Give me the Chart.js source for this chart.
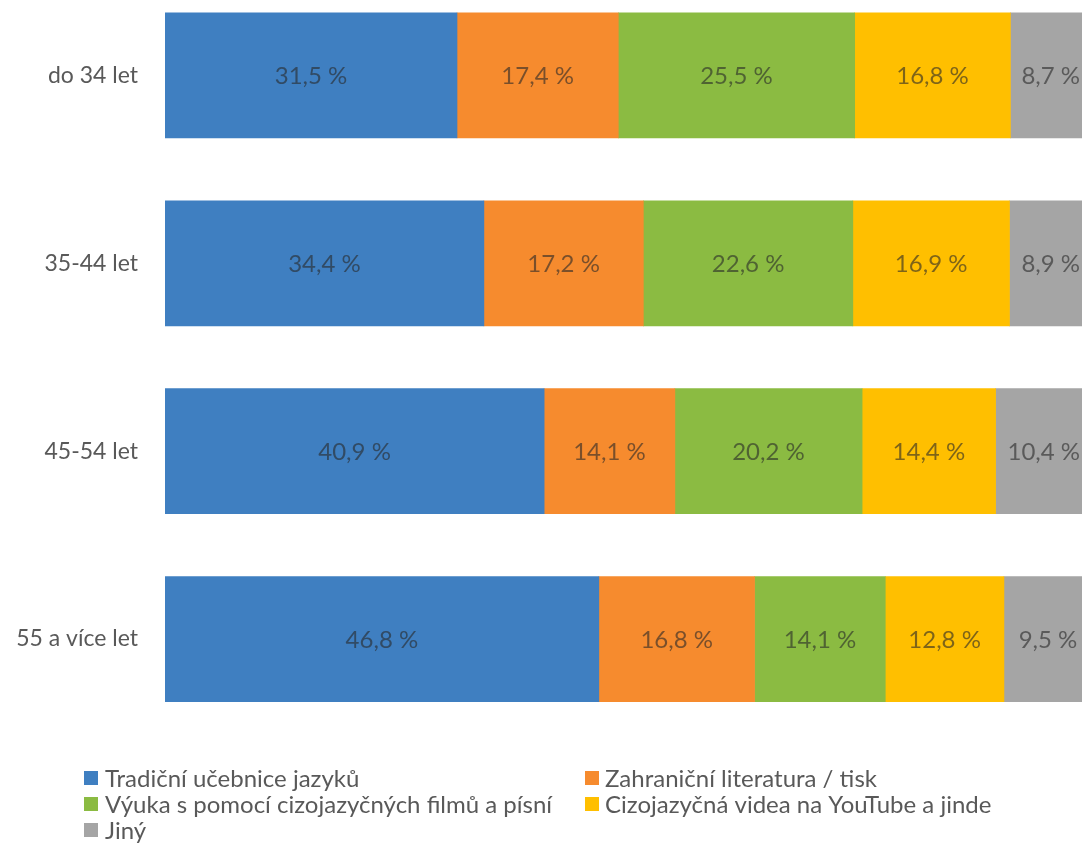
<!DOCTYPE html>
<html>
<head>
<meta charset="utf-8">
<script src="https://cdn.jsdelivr.net/npm/chart.js@4/dist/chart.umd.min.js"></script>
<style>
  html, body { margin: 0; padding: 0; background: #fff; overflow: hidden; width: 1082px; height: 846px; }
  #wrap { position: absolute; left: 0; top: -40px; width: 1110px; height: 886px; }
</style>
</head>
<body>
<div id="wrap"><canvas id="c" width="1110" height="886"></canvas></div>
<script>
const categories = ["do 34 let", "35-44 let", "45-54 let", "55 a více let"];
const seriesNames = [
  "Tradiční učebnice jazyků",
  "Zahraniční literatura / tisk",
  "Výuka s pomocí cizojazyčných filmů a písní",
  "Cizojazyčná videa na YouTube a jinde",
  "Jiný"
];
const tradicni   = [31.5, 34.4, 40.9, 46.8];
const zahranicni = [17.4, 17.2, 14.1, 16.8];
const vyuka      = [25.5, 22.6, 20.2, 14.1];
const videa      = [16.8, 16.9, 14.4, 12.8];
const jiny       = [8.7, 8.9, 10.4, 9.5];
const seriesValues = [tradicni, zahranicni, vyuka, videa, jiny];
const colors = ["#3f7fc1", "#f68b2e", "#8bbb42", "#ffbf00", "#a5a5a5"];

const FONT = "Lato, 'Open Sans', sans-serif";

const labelPlugin = {
  id: 'segLabels',
  afterDatasetsDraw(chart) {
    const ctx = chart.ctx;
    ctx.save();
    ctx.font = "24px " + FONT;
    ctx.fillStyle = "rgba(40,40,40,0.6)";
    ctx.textAlign = "center";
    ctx.textBaseline = "middle";
    chart.data.datasets.forEach((ds, di) => {
      const meta = chart.getDatasetMeta(di);
      meta.data.forEach((bar, i) => {
        const v = ds.data[i];
        const cx = (bar.x + bar.base) / 2;
        ctx.fillText(v.toFixed(1).replace('.', ',') + " %", cx, bar.y + 1);
      });
    });
    ctx.restore();
  }
};

const legendPlugin = {
  id: 'gridLegend',
  afterDraw(chart) {
    const ctx = chart.ctx;
    ctx.save();
    ctx.font = "24px " + FONT;
    ctx.textBaseline = "middle";
    ctx.textAlign = "left";
    const cols = [{box: 84, text: 105}, {box: 585, text: 605}];
    const rows = [818, 844, 870];
    chart.data.datasets.forEach((ds, i) => {
      const col = cols[i % 2];
      const ry = rows[Math.floor(i / 2)];
      ctx.fillStyle = ds.backgroundColor;
      ctx.fillRect(col.box, ry - 7, 14, 14);
      ctx.fillStyle = "#595959";
      ctx.fillText(ds.label, col.text, ry + 1);
    });
    ctx.restore();
  }
};

new Chart(document.getElementById('c'), {
  type: 'bar',
  data: {
    labels: categories,
    datasets: seriesNames.map((name, i) => ({
      label: name,
      data: seriesValues[i],
      backgroundColor: colors[i],
      borderWidth: 0,
      barThickness: 125
    }))
  },
  options: {
    indexAxis: 'y',
    responsive: false,
    animation: false,
    layout: { padding: { top: 21.5, bottom: 113, right: 18, left: 0 } },
    plugins: { legend: { display: false }, tooltip: { enabled: false } },
    scales: {
      x: { stacked: true, min: 0, max: 100, display: false },
      y: {
        stacked: true,
        grid: { display: false, drawTicks: false },
        border: { display: false },
        ticks: { color: "#595959", font: { family: FONT, size: 23 }, padding: 27 },
        afterFit(scale) { scale.width = 165; scale.paddingTop = 0; scale.paddingBottom = 0; }
      }
    }
  },
  plugins: [labelPlugin, legendPlugin]
});
</script>
</body>
</html>
